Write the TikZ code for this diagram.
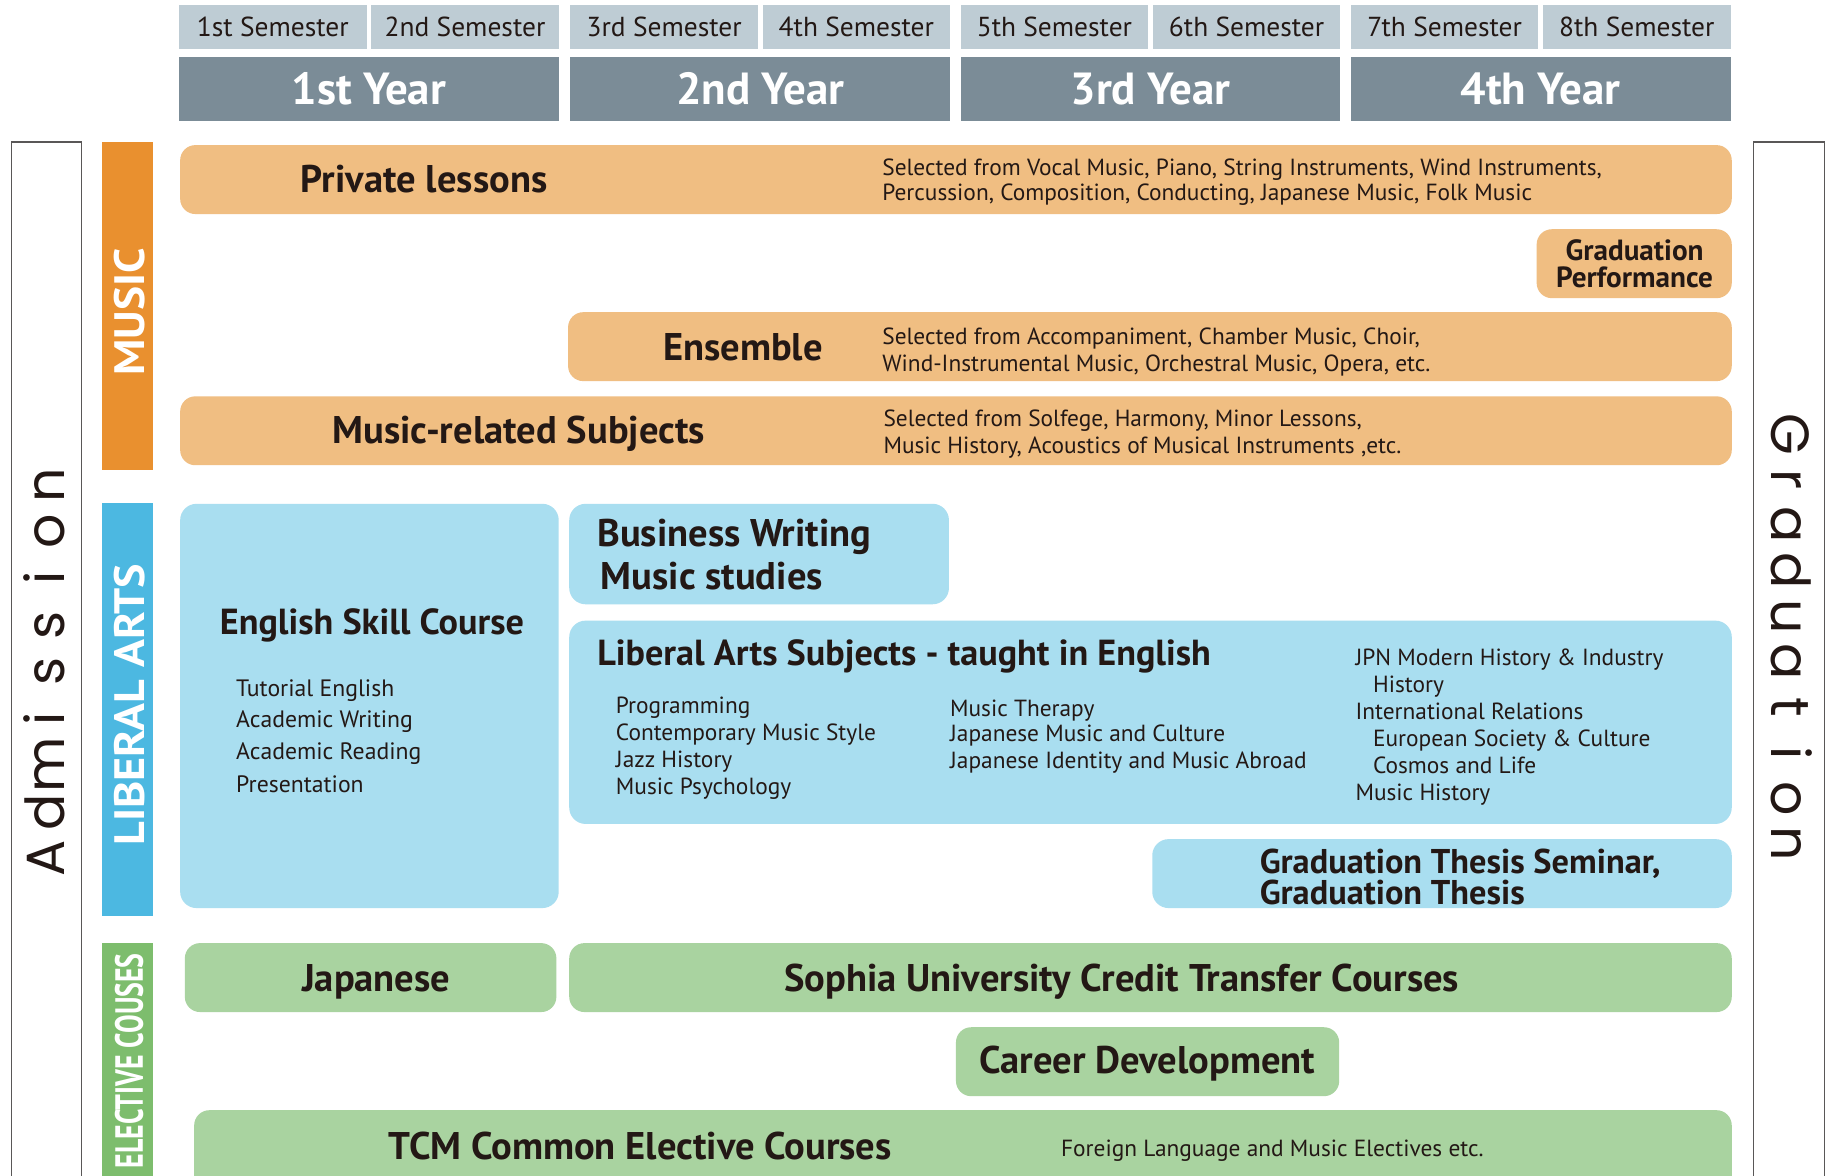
\documentclass[tikz,border=0pt]{standalone}
\usepackage{fontspec}
\setmainfont{PT Sans}
\newfontfamily\geofont{Poppins}
\definecolor{csem}{HTML}{BECCD4}
\definecolor{cyear}{HTML}{7B8C97}
\definecolor{corangebar}{HTML}{E9902F}
\definecolor{corange}{HTML}{F0BE82}
\definecolor{cbluebar}{HTML}{4CB8E1}
\definecolor{cblue}{HTML}{A9DEF0}
\definecolor{cgreenbar}{HTML}{7DBD6D}
\definecolor{cgreen}{HTML}{A9D3A0}
\definecolor{ctext}{HTML}{231815}
\definecolor{cline}{HTML}{595757}
\newcommand\lspA[1]{\makebox[40pt]{#1}}
\newcommand\lspG[1]{\makebox[39pt]{#1}}
\begin{document}
\begin{tikzpicture}[x=1pt,y=-1pt,
  sem/.style={fill=csem, inner sep=0pt, anchor=north west, minimum width=160.5pt, minimum height=38pt, text=ctext, font=\fontsize{23.5}{28}\selectfont},
  yr/.style={fill=cyear, inner sep=0pt, anchor=north west, minimum width=325pt, minimum height=54pt, text=white, font=\fontsize{38.5}{40}\selectfont\bfseries},
  bar/.style={inner sep=0pt, anchor=north west, minimum width=44pt},
  side/.style={draw=cline, line width=1pt, inner sep=0pt, anchor=north west, minimum height=920pt},
  orangebox/.style={fill=corange, rounded corners=13pt, inner sep=0pt, anchor=north west},
  bluebox/.style={fill=cblue, rounded corners=14pt, inner sep=0pt, anchor=north west},
  greenbox/.style={fill=cgreen, rounded corners=13pt, inner sep=0pt, anchor=north west},
  head/.style={inner sep=0pt, text=ctext, font=\fontsize{33}{38}\selectfont\bfseries, text height=23.1pt, text depth=0pt},
  headmid/.style={head, font=\fontsize{31}{36}\selectfont\bfseries, text height=21.7pt, anchor=west},
  small/.style={inner sep=0pt, text=ctext, font=\fontsize{20}{24}\selectfont, text height=14pt, text depth=0pt, anchor=west},
  barlabel/.style={inner sep=0pt, text=white, rotate=90, font=\bfseries},
  bigword/.style={inner sep=0pt, text=ctext, font=\geofont\fontsize{46}{50}\selectfont, anchor=base}
]
\clip (0,0) rectangle (1568,1006);
\fill[white] (0,0) rectangle (1568,1006);

% semesters
\node[sem] (s1) at (153,4) {1st Semester};
\node[sem] (s2) at (317.5,4) {2nd Semester};
\node[sem] (s3) at (488,4) {3rd Semester};
\node[sem] (s4) at (652.5,4) {4th Semester};
\node[sem] (s5) at (822,4) {5th Semester};
\node[sem] (s6) at (986.5,4) {6th Semester};
\node[sem] (s7) at (1156,4) {7th Semester};
\node[sem] (s8) at (1320.5,4) {8th Semester};
% years
\node[yr] (y1) at (153,49) {1st Year};
\node[yr] (y2) at (488,49) {2nd Year};
\node[yr] (y3) at (822,49) {3rd Year};
\node[yr] (y4) at (1156,49) {4th Year};

% side frames
\node[side, minimum width=60pt] (adm) at (9,121) {};
\node[side, minimum width=61pt] (grd) at (1500,121) {};
\node[bigword, rotate=90] (admt) at (55,575) {\lspA{A}\lspA{d}\lspA{m}\lspA{i}\lspA{s}\lspA{s}\lspA{i}\lspA{o}\lspA{n}};
\node[bigword, rotate=-90] (grdt) at (1516,547) {\lspG{G}\lspG{r}\lspG{a}\lspG{d}\lspG{u}\lspG{a}\lspG{t}\lspG{i}\lspG{o}\lspG{n}};

% category bars
\node[bar, fill=corangebar, minimum height=281pt] (mbar) at (87,121) {};
\node[bar, fill=cbluebar, minimum height=354pt] (lbar) at (87,430) {};
\node[bar, fill=cgreenbar, minimum height=220pt] (ebar) at (87,807) {};
\node[barlabel] (mlab) at (110.5,267) {\resizebox{109pt}{26pt}{\bfseries MUSIC}};
\node[barlabel] (llab) at (110.5,603) {\resizebox{241pt}{26pt}{\bfseries LIBERAL ARTS}};
\node[barlabel] (elab) at (110.5,908) {\resizebox{184pt}{24pt}{\bfseries ELECTIVE COUSES}};

% music boxes
\node[orangebox, minimum width=1328pt, minimum height=59pt] (pl) at (154,124) {};
\node[head] (plt) at (363,153) {Private lessons};
\node[small] (pl1) at (755,143) {Selected from Vocal Music, Piano, String Instruments, Wind Instruments,};
\node[small] (pl2) at (755,165) {Percussion, Composition, Conducting, Japanese Music, Folk Music};

\node[orangebox, minimum width=167pt, minimum height=59pt] (gp) at (1315,196) {};
\node[head, font=\fontsize{25}{28}\selectfont\bfseries, text height=17.5pt] (gp1) at (1399,214) {Graduation};
\node[head, font=\fontsize{25}{28}\selectfont\bfseries, text height=17.5pt] (gp2) at (1399,237) {Performance};

\node[orangebox, minimum width=996pt, minimum height=59pt] (ens) at (486,267) {};
\node[head] (enst) at (636,297) {Ensemble};
\node[small] (ens1) at (755,288) {Selected from Accompaniment, Chamber Music, Choir,};
\node[small] (ens2) at (755,311) {Wind-Instrumental Music, Orchestral Music, Opera, etc.};

\node[orangebox, minimum width=1328pt, minimum height=59pt] (mrs) at (154,339) {};
\node[head] (mrst) at (444,368) {Music-related Subjects};
\node[small] (mrs1) at (756,358) {Selected from Solfege, Harmony, Minor Lessons,};
\node[small] (mrs2) at (756,381) {Music History, Acoustics of Musical Instruments ,etc.};

% liberal arts boxes
\node[bluebox, minimum width=324pt, minimum height=346pt] (esc) at (154,431) {};
\node[headmid] (esct) at (188,532) {English Skill Course};
\node[small, font=\fontsize{20.3}{24}\selectfont] (esc1) at (202,589) {Tutorial English};
\node[small, font=\fontsize{20.3}{24}\selectfont] (esc2) at (202,616) {Academic Writing};
\node[small, font=\fontsize{20.3}{24}\selectfont] (esc3) at (202,643) {Academic Reading};
\node[small, font=\fontsize{20.3}{24}\selectfont] (esc4) at (202,671) {Presentation};

\node[bluebox, minimum width=325pt, minimum height=86pt] (bw) at (487,431) {};
\node[head, anchor=west] (bw1) at (511,456) {Business Writing};
\node[head, anchor=west] (bw2) at (514,493) {Music studies};

\node[bluebox, minimum width=995pt, minimum height=174pt] (las) at (487,531) {};
\node[headmid] (last) at (511,559) {Liberal Arts Subjects - taught in English};
\node[small] (la1) at (527,604) {Programming};
\node[small] (la2) at (527,627) {Contemporary Music Style};
\node[small] (la3) at (527,650) {Jazz History};
\node[small] (la4) at (527,673) {Music Psychology};
\node[small] (lb1) at (813,606) {Music Therapy};
\node[small] (lb2) at (813,628) {Japanese Music and Culture};
\node[small] (lb3) at (813,651) {Japanese Identity and Music Abroad};
\node[small] (lc1) at (1160,563) {JPN Modern History \& Industry};
\node[small] (lc2) at (1175,586) {History};
\node[small] (lc3) at (1160,609) {International Relations};
\node[small] (lc4) at (1175,632) {European Society \& Culture};
\node[small] (lc5) at (1175,655) {Cosmos and Life};
\node[small] (lc6) at (1160,678) {Music History};

\node[bluebox, minimum width=496pt, minimum height=59pt] (gt) at (986,718) {};
\node[head, anchor=west, font=\fontsize{29.4}{31}\selectfont\bfseries, text height=20.6pt] (gt1) at (1078,737) {Graduation Thesis Seminar,};
\node[head, anchor=west, font=\fontsize{29.4}{31}\selectfont\bfseries, text height=20.6pt] (gt2) at (1078,764) {Graduation Thesis};

% elective boxes
\node[greenbox, minimum width=318pt, minimum height=59pt] (jp) at (158,807) {};
\node[head] (jpt) at (322,837) {Japanese};
\node[greenbox, minimum width=995pt, minimum height=59pt] (so) at (487,807) {};
\node[head] (sot) at (960,837) {Sophia University Credit Transfer Courses};
\node[greenbox, minimum width=328pt, minimum height=59pt] (cd) at (818,879) {};
\node[head] (cdt) at (982,907) {Career Development};
\node[greenbox, minimum width=1316pt, minimum height=90pt] (tcm) at (166,950) {};
\node[head] (tcmt) at (548,981) {TCM Common Elective Courses};
\node[small] (tcm1) at (908,983) {Foreign Language and Music Electives etc.};
\end{tikzpicture}
\end{document}
